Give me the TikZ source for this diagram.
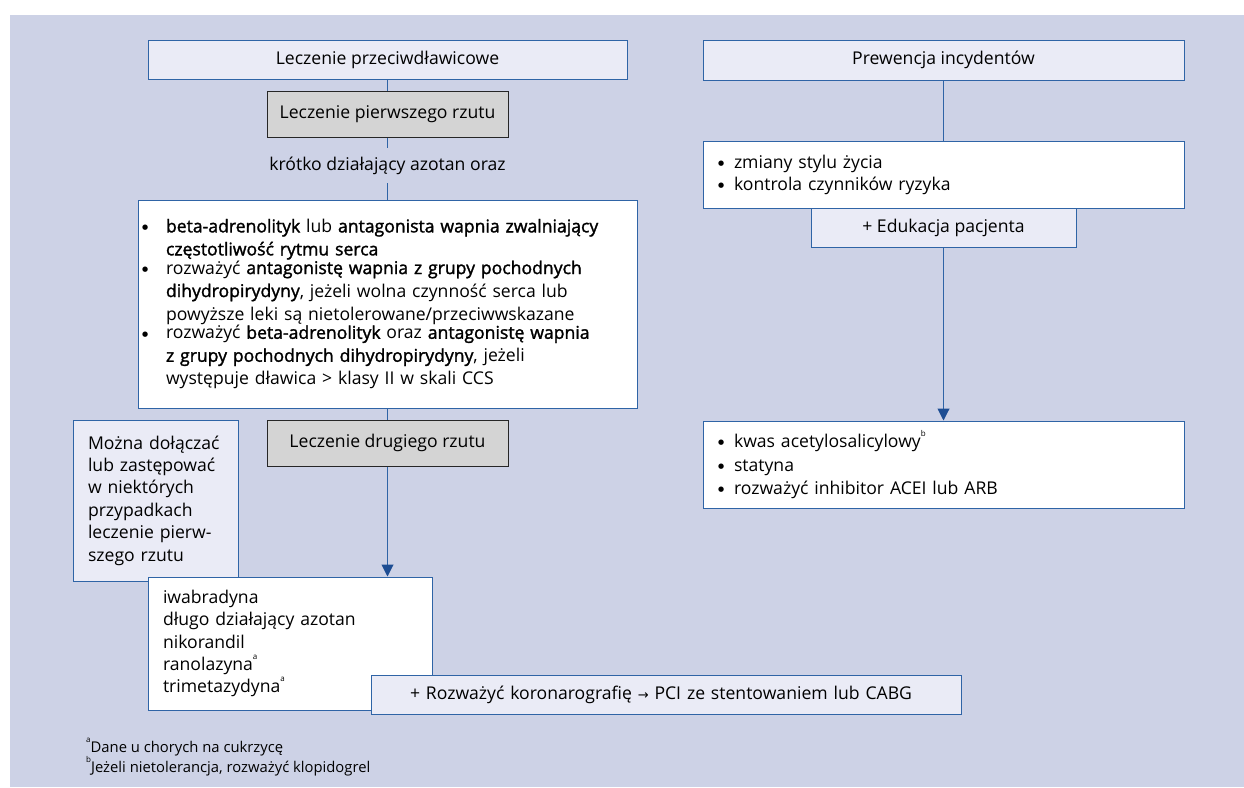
\documentclass[tikz,border=0pt]{standalone}
\usepackage{fontspec}
\setmainfont{Open Sans}[BoldFont={Open Sans},BoldFeatures={FakeBold=1.6}]
\newfontfamily\symfont{DejaVu Sans}
\usetikzlibrary{arrows.meta}
\definecolor{panel}{HTML}{CDD2E6}
\definecolor{lav}{HTML}{EAEBF6}
\definecolor{edge}{HTML}{2F64A6}
\definecolor{tipblue}{HTML}{1D4D93}
\definecolor{greyfill}{HTML}{D4D4D4}
\newcommand{\dotmark}{\raisebox{2.6pt}{\symfont\fontsize{7}{7}\selectfont ●}}
\newcommand{\pkt}[3]{\noindent\makebox[#1][l]{\dotmark}\parbox[t]{#2}{\raggedright #3}\par}
\newcommand{\fn}[1]{\raisebox{1.2ex}{\fontsize{8}{8}\selectfont #1}}

\begin{document}
\begin{tikzpicture}[x=1pt,y=-1pt,
    txt/.style={font=\fontsize{17.6}{23}\selectfont},
    box/.style={txt,draw=edge,line width=1pt,fill=white,inner sep=0pt},
    headbox/.style={box,fill=lav},
    greybox/.style={box,draw=black!85,fill=greyfill},
    link/.style={draw=edge,line width=1pt},
    arr/.style={link,-{Triangle[width=12pt,length=12pt,color=tipblue]}}]
    \useasboundingbox (0,0) rectangle (1244,787);
    \fill[panel] (10,15) rectangle (1244,787);

    \node[headbox,minimum width=479pt,minimum height=39pt] (antiang) at (387.5,59.5) {Leczenie przeciwdławicowe};
    \node[greybox,minimum width=241pt,minimum height=46pt] (first) at (387.5,114) {Leczenie pierwszego rzutu};
    \node[txt,inner sep=0pt,minimum height=35pt] (nitrate) at (387.5,165.5) {krótko działający azotan oraz};
    \node[box,text width=491pt,inner xsep=4pt,minimum height=208pt] (firstdrugs) at (387.5,304) {%
        \baselineskip=23pt\relax
        \pkt{24pt}{465pt}{\textbf{beta-adrenolityk} lub \textbf{antagonista wapnia zwalniający}\\\textbf{częstotliwość rytmu serca}}
        \pkt{24pt}{465pt}{rozważyć \textbf{antagonistę wapnia z grupy pochodnych}\\\textbf{dihydropirydyny}, jeżeli wolna czynność serca lub\\powyższe leki są nietolerowane/przeciwwskazane}
        \pkt{24pt}{465pt}{rozważyć \textbf{beta-adrenolityk} oraz \textbf{antagonistę wapnia}\\\textbf{z grupy pochodnych dihydropirydyny}, jeżeli\\występuje dławica > klasy II w skali CCS}};
    \node[greybox,minimum width=241pt,minimum height=46pt] (second) at (387.5,443) {Leczenie drugiego rzutu};
    \node[headbox,text width=135pt,inner xsep=15pt,minimum height=161pt,align=left,font=\fontsize{17.6}{22.4}\selectfont] (addnote) at (155.5,500.5) {Można dołączać\\lub zastępować\\w niektórych\\przypadkach\\leczenie pierw-\\szego rzutu};
    \node[box,text width=254pt,inner xsep=15pt,minimum height=133pt,align=left,font=\fontsize{17.6}{22.4}\selectfont] (seconddrugs) at (290,643.5) {iwabradyna\\długo działający azotan\\nikorandil\\ranolazyna\fn{a}\\trimetazydyna\fn{a}};
    \node[headbox,text width=512pt,inner xsep=39pt,minimum height=39pt,align=left] (coro) at (666,694.5) {+ Rozważyć koronarografię {\symfont\fontsize{13}{13}\selectfont →} PCI ze stentowaniem lub CABG};

    \node[headbox,minimum width=481pt,minimum height=40pt] (prev) at (943.5,60) {Prewencja incydentów};
    \node[box,text width=451pt,inner xsep=15pt,minimum height=67pt] (lifestyle) at (943.5,174.5) {%
        \baselineskip=22pt\relax
        \pkt{16pt}{430pt}{zmiany stylu życia}
        \pkt{16pt}{430pt}{kontrola czynników ryzyka}};
    \node[headbox,minimum width=265pt,minimum height=39pt] (edu) at (943.5,227.5) {+ Edukacja pacjenta};
    \node[box,text width=451pt,inner xsep=15pt,minimum height=87pt] (meds) at (943.5,464.5) {%
        \baselineskip=23.5pt\relax
        \pkt{16pt}{430pt}{kwas acetylosalicylowy\fn{b}}
        \pkt{16pt}{430pt}{statyna}
        \pkt{16pt}{430pt}{rozważyć inhibitor ACEI lub ARB}};

    \node[font=\fontsize{14.8}{17}\selectfont,inner sep=0pt,anchor=west,align=left] (footnotes) at (86,757) {\fn{a}Dane u chorych na cukrzycę\\\fn{b}Jeżeli nietolerancja, rozważyć klopidogrel};

    \draw[link] (antiang) -- (first);
    \draw[link] (first) -- (nitrate);
    \draw[link] (nitrate) -- (firstdrugs);
    \draw[link] (firstdrugs) -- (second);
    \draw[arr] (second) -- (second |- seconddrugs.north);
    \draw[link] (prev) -- (lifestyle);
    \draw[arr] (edu) -- (meds);
\end{tikzpicture}
\end{document}
